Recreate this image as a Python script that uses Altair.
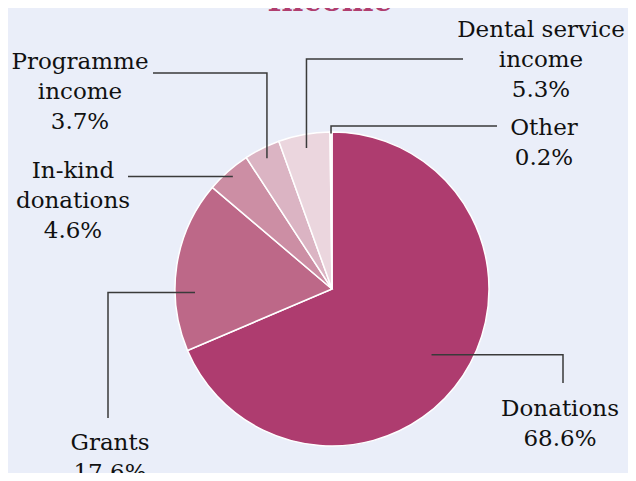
import math
import altair as alt
import pandas as pd

# ---- data ----
categories = ["Donations", "Grants", "In-kind donations", "Programme income",
              "Dental service income", "Other"]
values = [68.6, 17.6, 4.6, 3.7, 5.3, 0.2]
label_texts = ["Donations\n68.6%", "Grants\n17.6%", "In-kind\ndonations\n4.6%",
               "Programme\nincome\n3.7%", "Dental service\nincome\n5.3%", "Other\n0.2%"]
colors = ["#ae3c6f", "#bd6888", "#cc8ea4", "#dbb4c3", "#ebd6de", "#f4e8ed"]

# ---- layout (chart pixel space) ----
W, H = 620, 465
CX, CY, R = 324, 281, 157
label_x = [552, 102, 65, 72, 533, 536]
label_y = [408, 442, 170, 61, 29, 127]
# leader anchors: fraction along slice angle, fraction of radius
anchor_frac = [0.5, 0.34, 0.5, 0.5, 0.5, 0.5]
anchor_rad = [0.76, 0.873, 0.955, 0.93, 0.913, 0.99]
# leader routing: kind, param a, param b
leader_kind = ["hv", "hv", "h", "vh", "vh", "vh"]
leader_a = [555, 100, 120, 65, 51, 118]
leader_b = [375, 410, 0, 145, 455, 489]

pie_df = pd.DataFrame({"category": categories, "value": values,
                       "idx": list(range(len(categories)))})

total = sum(values)
rows = []
cum = 0.0
for i, (c, v) in enumerate(zip(categories, values)):
    a0 = cum / total * 2 * math.pi
    a1 = (cum + v) / total * 2 * math.pi
    cum += v
    ang = a0 + (a1 - a0) * anchor_frac[i]
    r = R * anchor_rad[i]
    sx = CX + r * math.sin(ang)
    sy = CY - r * math.cos(ang)
    k = leader_kind[i]
    if k == "hv":
        pts = [(sx, sy), (leader_a[i], sy), (leader_a[i], leader_b[i])]
    elif k == "vh":
        pts = [(sx, sy), (sx, leader_a[i]), (leader_b[i], leader_a[i])]
    else:
        pts = [(sx, sy), (leader_a[i], sy)]
    for j, (px, py) in enumerate(pts):
        rows.append({"category": c, "o": j, "x": px, "y": py})
lead_df = pd.DataFrame(rows)

lab_df = pd.DataFrame({"category": categories, "text": label_texts,
                       "x": label_x, "y": label_y})

xs = alt.Scale(domain=[0, W], range=[0, W], nice=False, zero=False)
ys = alt.Scale(domain=[0, H], range=[0, H], nice=False, zero=False)

pie = alt.Chart(pie_df).mark_arc(radius=R, stroke="white", strokeWidth=1.5).encode(
    theta=alt.Theta("value:Q", stack=True),
    color=alt.Color("category:N", scale=alt.Scale(domain=categories, range=colors), legend=None),
    order=alt.Order("idx:Q", sort="ascending"),
    x=alt.value(CX),
    y=alt.value(CY),
)

leaders = alt.Chart(lead_df).mark_line(color="#3a3a3a", strokeWidth=1.5).encode(
    x=alt.X("x:Q", scale=xs, axis=None),
    y=alt.Y("y:Q", scale=ys, axis=None),
    detail="category:N",
    order="o:Q",
)

labels = alt.Chart(lab_df).mark_text(
    font="DejaVu Serif", fontSize=23, lineHeight=30, lineBreak="\n",
    align="center", baseline="alphabetic", color="#111111",
).encode(
    x=alt.X("x:Q", scale=xs, axis=None),
    y=alt.Y("y:Q", scale=ys, axis=None),
    text="text:N",
)

title = alt.Chart(pd.DataFrame({"t": ["Income"]})).mark_text(
    font="DejaVu Serif", fontSize=30, fontWeight="bold", align="center",
    baseline="alphabetic", color="#b03d6e",
).encode(x=alt.value(322), y=alt.value(3), text="t:N")

chart = alt.layer(pie, leaders, labels, title).properties(
    width=W, height=H, padding=0, autosize=alt.AutoSizeParams(type="none"),
    background="#eaeef9",
).configure_view(stroke=None)

chart.save("out.html", embed_options={"renderer": "svg", "actions": False})
